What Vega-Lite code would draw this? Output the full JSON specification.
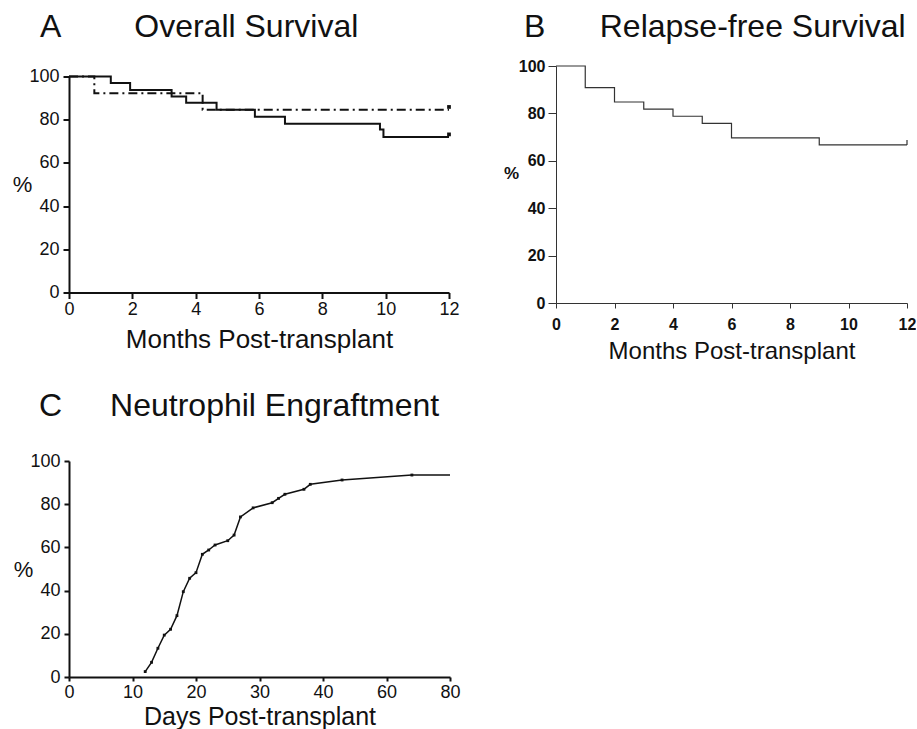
{
  "$schema": "https://vega.github.io/schema/vega-lite/v6.json",
  "padding": {"left": 12, "top": 10, "right": 0, "bottom": 0},
  "background": "white",
  "config": {
    "font": "Liberation Sans",
    "view": {"stroke": null},
    "axis": {"grid": false, "labelFont": "Liberation Sans", "titleFont": "Liberation Sans", "labelColor": "#111", "titleColor": "#111", "domainColor": "#111", "tickColor": "#111", "labelFlush": false, "labelOverlap": false},
    "title": {"font": "Liberation Sans", "fontWeight": "normal", "color": "#111", "fontSize": 32}
  },
  "datasets": {
    "os": [
      {"month": 0, "pct": 100, "group": "all"},
      {"month": 1.32, "pct": 97.0, "group": "all"},
      {"month": 1.93, "pct": 93.7, "group": "all"},
      {"month": 3.24, "pct": 90.7, "group": "all"},
      {"month": 3.7, "pct": 87.8, "group": "all"},
      {"month": 4.66, "pct": 84.6, "group": "all"},
      {"month": 5.87, "pct": 81.4, "group": "all"},
      {"month": 6.82, "pct": 78.1, "group": "all"},
      {"month": 9.82, "pct": 75.5, "group": "all"},
      {"month": 9.93, "pct": 72.0, "group": "all"},
      {"month": 12, "pct": 72.0, "group": "all"},
      {"month": 0, "pct": 100, "group": "sub"},
      {"month": 0.8, "pct": 92.3, "group": "sub"},
      {"month": 4.22, "pct": 84.6, "group": "sub"},
      {"month": 12, "pct": 84.6, "group": "sub"}
    ],
    "os_censor": [
      {"month": 12, "pct": 73.2, "group": "all"},
      {"month": 12, "pct": 85.9, "group": "sub"}
    ],
    "rfs": [
      {"month": 0, "pct": 100},
      {"month": 1, "pct": 90.9},
      {"month": 2, "pct": 84.8},
      {"month": 3, "pct": 81.8},
      {"month": 4, "pct": 78.8},
      {"month": 5, "pct": 75.8},
      {"month": 6, "pct": 69.7},
      {"month": 9, "pct": 66.7},
      {"month": 12, "pct": 66.7}
    ],
    "rfs_censor": [{"month": 12, "lo": 66.7, "hi": 68.8}],
    "neut": [
      {"day": 12, "pct": 2.5},
      {"day": 13, "pct": 6.8},
      {"day": 14, "pct": 13.3},
      {"day": 15, "pct": 19.4},
      {"day": 16, "pct": 22.1},
      {"day": 17, "pct": 28.4},
      {"day": 18, "pct": 39.5},
      {"day": 19, "pct": 45.7},
      {"day": 20, "pct": 48.3},
      {"day": 21, "pct": 56.8},
      {"day": 22, "pct": 58.8},
      {"day": 23, "pct": 61.1},
      {"day": 25, "pct": 63.1},
      {"day": 26, "pct": 65.7},
      {"day": 27, "pct": 74.1},
      {"day": 29, "pct": 78.3},
      {"day": 32, "pct": 80.7},
      {"day": 33, "pct": 82.7},
      {"day": 34, "pct": 84.6},
      {"day": 37, "pct": 86.9},
      {"day": 38, "pct": 89.2},
      {"day": 46, "pct": 91.2},
      {"day": 68, "pct": 93.5},
      {"day": 80, "pct": 93.5}
    ]
  },
  "spacing": 27,
  "vconcat": [
    {
      "spacing": 43,
      "center": true,
      "hconcat": [
        {
          "width": 380,
          "height": 216,
          "title": {"text": "A\u2002\u2002\u2002\u2002\u00a0Overall Survival", "anchor": "start", "frame": "group", "dx": -29, "offset": 24},
          "layer": [
            {
              "data": {"name": "os"},
              "transform": [{"filter": "datum.group === 'all'"}],
              "mark": {"type": "line", "interpolate": "step-after", "color": "#111", "strokeWidth": 2},
              "encoding": {
                "x": {"field": "month", "type": "quantitative", "scale": {"domain": [0, 12], "nice": false},
                  "axis": {"values": [0, 2, 4, 6, 8, 10, 12], "title": "Months Post-transplant", "titleFontSize": 26, "titleFontWeight": "normal", "labelFontSize": 18, "tickSize": 6, "tickWidth": 2, "domainWidth": 2, "labelPadding": 2, "titlePadding": 8}},
                "y": {"field": "pct", "type": "quantitative", "scale": {"domain": [0, 100], "nice": false},
                  "axis": {"values": [0, 20, 40, 60, 80, 100], "title": "%", "titleAngle": 0, "titleX": -47, "titleY": 108, "titleAlign": "center", "titleBaseline": "middle", "titleFontSize": 22, "titleFontWeight": "normal", "labelFontSize": 18, "tickSize": 6, "tickWidth": 2, "domainWidth": 2, "labelPadding": 4}}
              }
            },
            {
              "data": {"name": "os"},
              "transform": [{"filter": "datum.group === 'sub'"}],
              "mark": {"type": "line", "interpolate": "step-after", "color": "#111", "strokeWidth": 2, "strokeDash": [9, 4, 2, 4]},
              "encoding": {
                "x": {"field": "month", "type": "quantitative"},
                "y": {"field": "pct", "type": "quantitative"}
              }
            },
            {
              "data": {"name": "os_censor"},
              "mark": {"type": "point", "shape": "square", "filled": true, "size": 14, "color": "#111", "opacity": 1},
              "encoding": {
                "x": {"field": "month", "type": "quantitative"},
                "y": {"field": "pct", "type": "quantitative"}
              }
            }
          ]
        },
        {
          "width": 351,
          "height": 237,
          "title": {"text": "B\u2002\u2002\u2002\u2009Relapse-free Survival", "anchor": "start", "frame": "group", "dx": -32, "offset": 14},
          "layer": [
            {
              "data": {"name": "rfs"},
              "mark": {"type": "line", "interpolate": "step-after", "color": "#333", "strokeWidth": 1.2},
              "encoding": {
                "x": {"field": "month", "type": "quantitative", "scale": {"domain": [0, 12], "nice": false},
                  "axis": {"values": [0, 2, 4, 6, 8, 10, 12], "title": "Months Post-transplant", "titleFontSize": 24, "titleFontWeight": "normal", "labelFontSize": 16, "labelFontWeight": "bold", "tickSize": 5, "tickWidth": 1, "domainWidth": 1, "labelPadding": 8, "titlePadding": 7, "domainColor": "#333", "tickColor": "#333"}},
                "y": {"field": "pct", "type": "quantitative", "scale": {"domain": [0, 100], "nice": false},
                  "axis": {"values": [0, 20, 40, 60, 80, 100], "title": "%", "titleAngle": 0, "titleX": -45, "titleY": 107, "titleAlign": "center", "titleBaseline": "middle", "titleFontSize": 17, "titleFontWeight": "bold", "labelFontSize": 16, "labelFontWeight": "bold", "tickSize": 8, "tickWidth": 1, "domainWidth": 1, "labelPadding": 3, "domainColor": "#333", "tickColor": "#333"}}
              }
            },
            {
              "data": {"name": "rfs_censor"},
              "mark": {"type": "rule", "color": "#333", "strokeWidth": 1.2},
              "encoding": {
                "x": {"field": "month", "type": "quantitative"},
                "y": {"field": "lo", "type": "quantitative"},
                "y2": {"field": "hi"}
              }
            }
          ]
        }
      ]
    },
    {
      "width": 381,
      "height": 216,
      "title": {"text": "C\u2002\u2002\u2002Neutrophil Engraftment", "anchor": "start", "frame": "group", "dx": -30, "offset": 29},
      "data": {"name": "neut"},
      "layer": [
        {
          "mark": {"type": "line", "color": "#111", "strokeWidth": 1.5},
          "encoding": {
            "x": {"field": "day", "type": "quantitative", "scale": {"domain": [0, 40, 80], "range": [0, 254, 381], "nice": false, "zero": false},
              "axis": {"values": [0, 10, 20, 30, 40, 60, 80], "title": "Days Post-transplant", "titleFontSize": 25, "titleFontWeight": "normal", "labelFontSize": 18, "tickSize": 4, "tickWidth": 2, "domainWidth": 2, "labelPadding": 2, "titlePadding": 3}},
            "y": {"field": "pct", "type": "quantitative", "scale": {"domain": [0, 100], "nice": false},
              "axis": {"values": [0, 20, 40, 60, 80, 100], "title": "%", "titleAngle": 0, "titleX": -46, "titleY": 108, "titleAlign": "center", "titleBaseline": "middle", "titleFontSize": 22, "titleFontWeight": "normal", "labelFontSize": 18, "tickSize": 5, "tickWidth": 2, "domainWidth": 2, "labelPadding": 4}}
          }
        },
        {
          "transform": [{"filter": "datum.day < 80"}],
          "mark": {"type": "point", "shape": "square", "filled": true, "size": 8, "color": "#111", "opacity": 1},
          "encoding": {
            "x": {"field": "day", "type": "quantitative"},
            "y": {"field": "pct", "type": "quantitative"}
          }
        }
      ]
    }
  ]
}
